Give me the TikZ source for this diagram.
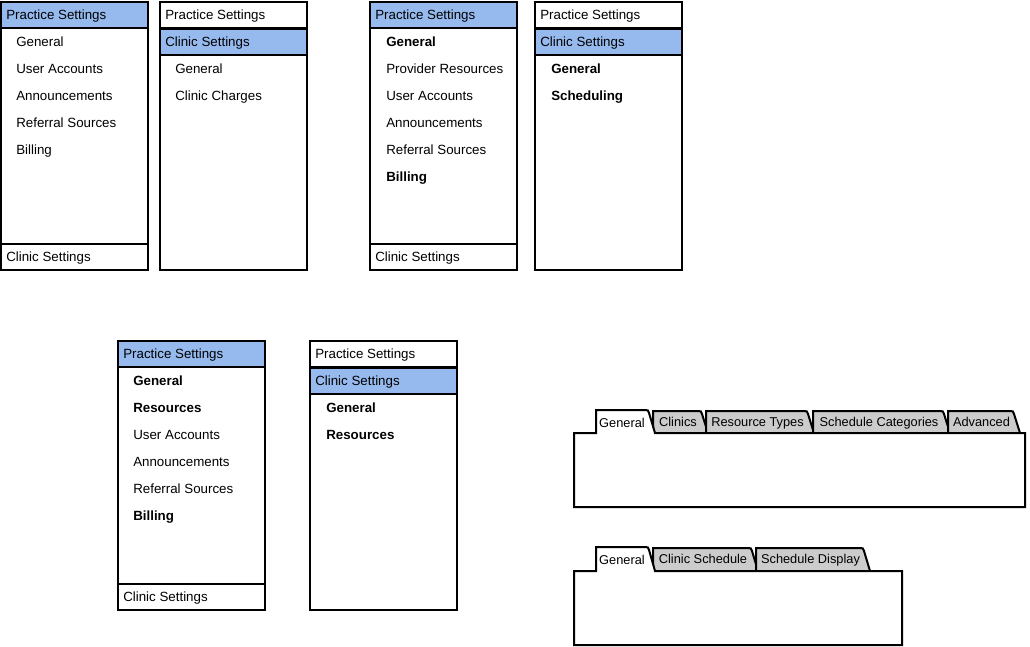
\documentclass[tikz,border=0pt]{standalone}
\usepackage{fontspec}
\setmainfont{Liberation Sans}
\usetikzlibrary{positioning}

\definecolor{selblue}{RGB}{150,186,238}
\definecolor{tabgrey}{RGB}{204,204,204}

\tikzset{
    panel/.style={draw=black, line width=1.5pt, fill=white},
    selbar/.style={draw=black, line width=1.5pt, fill=selblue},
    hdrtext/.style={anchor=base west, inner sep=0pt, font=\fontsize{10}{12}\selectfont},
    itemtext/.style={hdrtext},
    tabgrey/.style={draw=black, line width=1.5pt, fill=tabgrey},
    tabopen/.style={draw=black, line width=1.5pt, fill=white},
    tabtext/.style={anchor=base, inner sep=0pt, font=\fontsize{9.6}{12}\selectfont}
}

\begin{document}
\begin{tikzpicture}[x=0.75pt,y=-0.75pt]
    \useasboundingbox (0,0) rectangle (1030,646);

    % Practice settings open (first draft)
    \draw[panel] (1,2) rectangle (148,270);
    \draw[selbar] (1,2) rectangle (148,28);
    \draw[panel] (1,244) rectangle (148,270);
    \node[hdrtext] (pa-head) at (6,19) {Practice Settings};
    \foreach \t [count=\i] in {General, User Accounts, Announcements, Referral Sources, Billing}
        \node[itemtext] (pa-\i) at (16,{19+27*\i}) {\t};
    \node[hdrtext] (pa-foot) at (6,261) {Clinic Settings};

    % Clinic settings open (first draft)
    \draw[panel] (160,2) rectangle (307,270);
    \draw[panel] (160,2) rectangle (307,28);
    \draw[selbar] (160,29) rectangle (307,55);
    \node[hdrtext] (ca-head) at (165,19) {Practice Settings};
    \node[hdrtext] (ca-sel) at (165,46) {Clinic Settings};
    \foreach \t [count=\i] in {General, Clinic Charges}
        \node[itemtext] (ca-\i) at (175,{46+27*\i}) {\t};

    % Practice settings open (second draft)
    \draw[panel] (370,2) rectangle (517,270);
    \draw[selbar] (370,2) rectangle (517,28);
    \draw[panel] (370,244) rectangle (517,270);
    \node[hdrtext] (pb-head) at (375,19) {Practice Settings};
    \foreach \t [count=\i] in {\textbf{General}, Provider Resources, User Accounts,
            Announcements, Referral Sources, \textbf{Billing}}
        \node[itemtext] (pb-\i) at (386,{19+27*\i}) {\t};
    \node[hdrtext] (pb-foot) at (375,261) {Clinic Settings};

    % Clinic settings open (second draft)
    \draw[panel] (535,2) rectangle (682,270);
    \draw[panel] (535,2) rectangle (682,28);
    \draw[selbar] (535,29) rectangle (682,55);
    \node[hdrtext] (cb-head) at (540,19) {Practice Settings};
    \node[hdrtext] (cb-sel) at (540,46) {Clinic Settings};
    \foreach \t [count=\i] in {\textbf{General}, \textbf{Scheduling}}
        \node[itemtext] (cb-\i) at (551,{46+27*\i}) {\t};

    % Practice settings open (third draft)
    \draw[panel] (118,341) rectangle (265,610);
    \draw[selbar] (118,341) rectangle (265,367);
    \draw[panel] (118,584) rectangle (265,610);
    \node[hdrtext] (pc-head) at (123,358) {Practice Settings};
    \foreach \t [count=\i] in {\textbf{General}, \textbf{Resources}, User Accounts,
            Announcements, Referral Sources, \textbf{Billing}}
        \node[itemtext] (pc-\i) at (133,{358+27*\i}) {\t};
    \node[hdrtext] (pc-foot) at (123,601) {Clinic Settings};

    % Clinic settings open (third draft)
    \draw[panel] (310,341) rectangle (457,610);
    \draw[panel] (310,341) rectangle (457,367);
    \draw[selbar] (310,368) rectangle (457,394);
    \node[hdrtext] (cc-head) at (315,358) {Practice Settings};
    \node[hdrtext] (cc-sel) at (315,385) {Clinic Settings};
    \foreach \t [count=\i] in {\textbf{General}, \textbf{Resources}}
        \node[itemtext] (cc-\i) at (326,{385+27*\i}) {\t};

    % Practice tab strip
    \foreach \l/\r/\t [count=\i] in {653/701/Clinics, 706/807/Resource Types,
            813/943/Schedule Categories, 948/1013/Advanced} {
        \draw[tabgrey] (\l,433) -- (\l,411) -- (\r-3,411)
            .. controls (\r,411) .. (\r+1,414) -- (\r+7,433);
        \node[tabtext] (ta-\i) at ({(\l+\r)/2+1},426) {\t};
    }
    \draw[tabopen] (574,433) -- (596,433) -- (596,410) -- (645,410)
        .. controls (648,410) .. (649,413) -- (655,433)
        -- (1025,433) -- (1025,507) -- (574,507) -- cycle;
    \node[tabtext] (ta-gen) at (622,427) {General};

    % Clinic tab strip
    \foreach \l/\r/\t [count=\i] in {653/751/Clinic Schedule, 756/863/Schedule Display} {
        \draw[tabgrey] (\l,571) -- (\l,548) -- (\r-3,548)
            .. controls (\r,548) .. (\r+1,551) -- (\r+7,571);
        \node[tabtext] (tb-\i) at ({(\l+\r)/2+1},563) {\t};
    }
    \draw[tabopen] (574,571) -- (596,571) -- (596,547) -- (645,547)
        .. controls (648,547) .. (649,550) -- (655,571)
        -- (902,571) -- (902,645) -- (574,645) -- cycle;
    \node[tabtext] (tb-gen) at (622,564) {General};
\end{tikzpicture}
\end{document}
